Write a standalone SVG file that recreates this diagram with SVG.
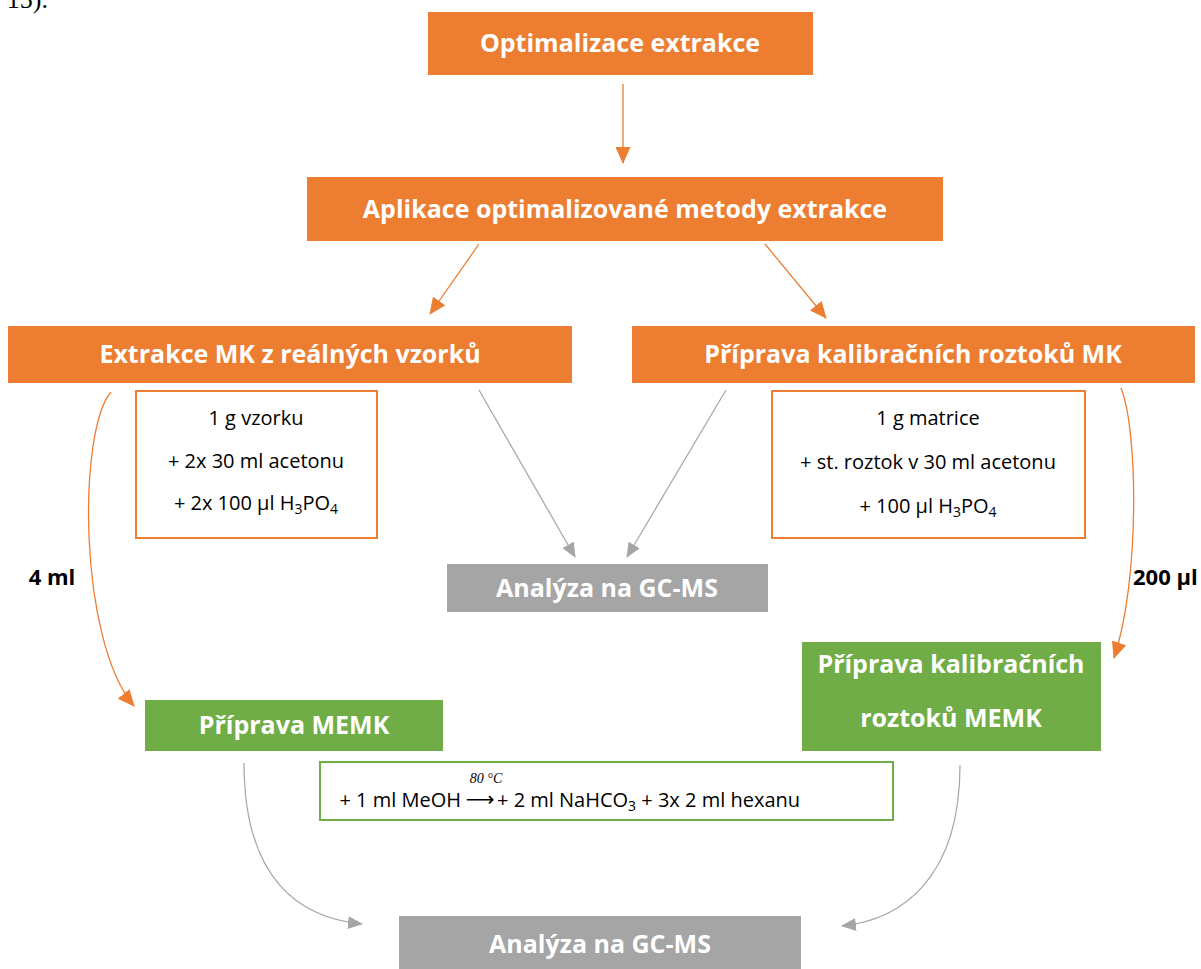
<svg xmlns="http://www.w3.org/2000/svg" width="1201" height="969" viewBox="0 0 1201 969">
<style>
.or{fill:#ED7D31}
.gr{fill:#70AD47}
.gy{fill:#A5A5A5}
.t{font-family:"Open Sans","Noto Sans",sans-serif;font-weight:bold;font-size:25px;fill:#fff;text-anchor:middle}
.b{font-family:"Open Sans","Noto Sans",sans-serif;font-size:20px;fill:#000;text-anchor:middle}
.bs{font-family:"Open Sans","Noto Sans",sans-serif;font-size:20px;fill:#000;text-anchor:start}
.be{font-family:"Open Sans","Noto Sans",sans-serif;font-size:20px;fill:#000;text-anchor:end}
.lb{font-family:"Open Sans","Noto Sans",sans-serif;font-weight:bold;font-size:22px;fill:#000}
.co{fill:none;stroke:#ED7D31;stroke-width:1.3}
.cg{fill:none;stroke:#A5A5A5;stroke-width:1.2}
</style>
<defs>
<marker id="ao" markerWidth="17" markerHeight="15" refX="16" refY="7.5" orient="auto" markerUnits="userSpaceOnUse"><path d="M0,0 L17,7.5 L0,15 Z" fill="#ED7D31"/></marker>
<marker id="ag" markerWidth="15" markerHeight="13" refX="14" refY="6.5" orient="auto" markerUnits="userSpaceOnUse"><path d="M0,0 L15,6.5 L0,13 Z" fill="#A5A5A5"/></marker>
</defs>
<text x="48" y="8" font-family="Liberation Serif,serif" font-size="26" text-anchor="end" fill="#000">15).</text>
<g id="connectors">
<line class="co" x1="623" y1="84" x2="623" y2="163" marker-end="url(#ao)"/>
<line class="co" x1="479" y1="244" x2="430" y2="314" marker-end="url(#ao)"/>
<line class="co" x1="765" y1="244" x2="826" y2="318" marker-end="url(#ao)"/>
<line class="cg" x1="479" y1="390" x2="575" y2="557" marker-end="url(#ag)"/>
<line class="cg" x1="726" y1="390" x2="627" y2="557" marker-end="url(#ag)"/>
<path class="co" d="M111,392 C78,430 78,640 134,706" marker-end="url(#ao)"/>
<path class="co" d="M1121,388 C1138,430 1140,580 1114,658" marker-end="url(#ao)"/>
<path class="cg" d="M244,763 C244,880 300,918 362,924" marker-end="url(#ag)"/>
<path class="cg" d="M960,765 C960,880 900,920 842,926" marker-end="url(#ag)"/>
</g>
<g id="n1"><rect class="or" x="428" y="12" width="385" height="63"/><text class="t" x="620" y="52">Optimalizace extrakce</text></g>
<g id="n2"><rect class="or" x="307" y="177" width="636" height="64"/><text class="t" x="625" y="218">Aplikace optimalizované metody extrakce</text></g>
<g id="n3"><rect class="or" x="8" y="326" width="564" height="57"/><text class="t" x="290" y="363">Extrakce MK z reálných vzorků</text></g>
<g id="n4"><rect class="or" x="632" y="326" width="563" height="57"/><text class="t" x="913" y="363">Příprava kalibračních roztoků MK</text></g>
<g id="n5"><rect x="136" y="391" width="241" height="147" fill="#fff" stroke="#ED7D31" stroke-width="2"/>
<text class="b" x="256" y="425">1 g vzorku</text>
<text class="b" x="256" y="468">+ 2x 30 ml acetonu</text>
<text class="b" x="256" y="510">+ 2x 100 µl H<tspan font-size="14" dy="4">3</tspan><tspan dy="-4">PO</tspan><tspan font-size="14" dy="4">4</tspan></text></g>
<g id="n6"><rect x="772" y="391" width="313" height="147" fill="#fff" stroke="#ED7D31" stroke-width="2"/>
<text class="b" x="928" y="425">1 g matrice</text>
<text class="b" x="928" y="469">+ st. roztok v 30 ml acetonu</text>
<text class="b" x="928" y="513">+ 100 µl H<tspan font-size="14" dy="4">3</tspan><tspan dy="-4">PO</tspan><tspan font-size="14" dy="4">4</tspan></text></g>
<g id="n7"><rect class="gy" x="447" y="564" width="321" height="48"/><text class="t" x="607" y="597">Analýza na GC-MS</text></g>
<g id="n8"><rect class="gr" x="145" y="700" width="298" height="51"/><text class="t" x="294" y="734">Příprava MEMK</text></g>
<g id="n9"><rect class="gr" x="802" y="642" width="299" height="109"/><text class="t" x="951" y="673">Příprava kalibračních</text><text class="t" x="951" y="727">roztoků MEMK</text></g>
<g id="n10"><rect x="320" y="762" width="573" height="58" fill="#fff" stroke="#70AD47" stroke-width="2"/>
<text class="be" x="461" y="807">+ 1 ml MeOH</text>
<text x="480" y="806" font-family="DejaVu Sans,sans-serif" font-size="20" text-anchor="middle" fill="#000">⟶</text>
<text class="bs" x="497" y="807">+ 2 ml NaHCO<tspan font-size="14" dy="4">3</tspan><tspan dy="-4"> + 3x 2 ml hexanu</tspan></text>
<text x="486" y="783" font-family="Liberation Serif,serif" font-style="italic" font-size="14" text-anchor="middle" fill="#000">80 °C</text></g>
<g id="n11"><rect class="gy" x="399" y="916" width="402" height="53"/><text class="t" x="600" y="953">Analýza na GC-MS</text></g>
<text class="lb" x="52" y="585" text-anchor="middle">4 ml</text>
<text class="lb" x="1133" y="585">200 µl</text>
</svg>
